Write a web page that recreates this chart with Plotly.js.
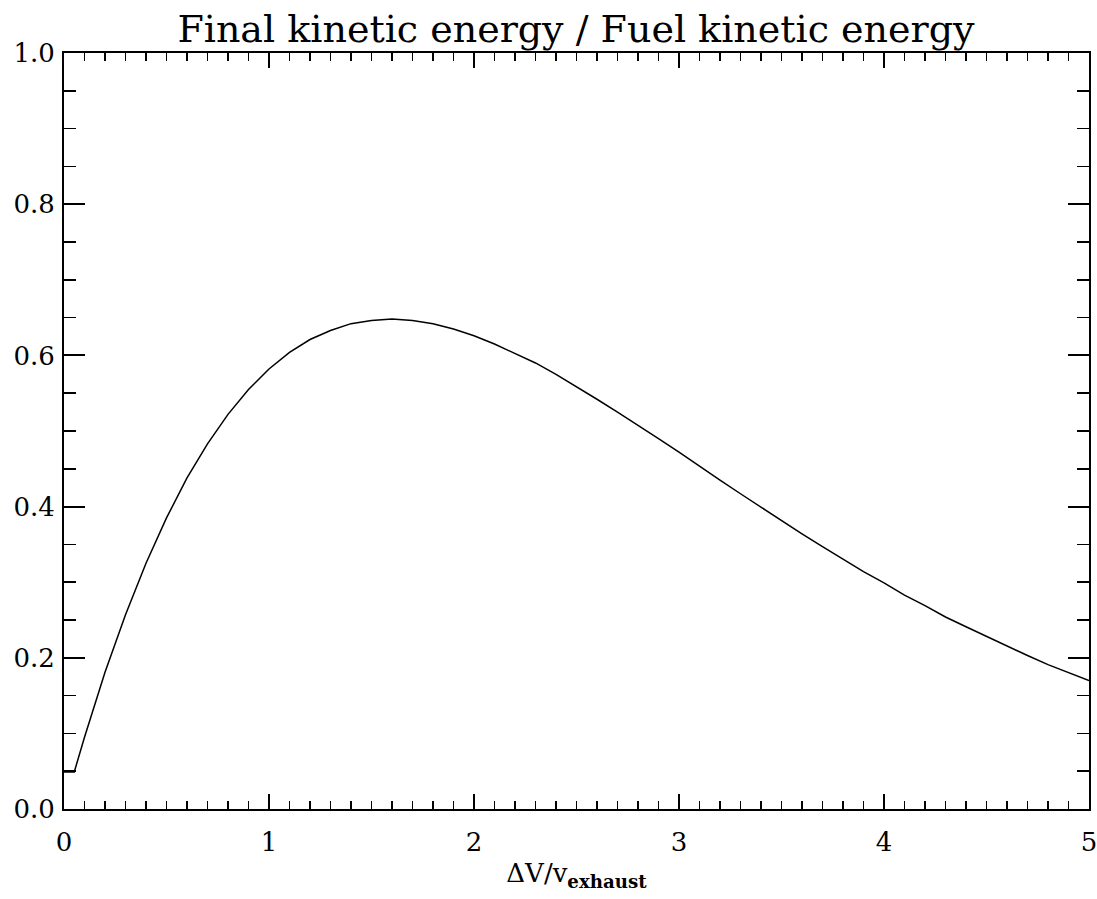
<!DOCTYPE html>
<html>
<head>
<meta charset="utf-8">
<script src="https://cdn.plot.ly/plotly-3.0.1.min.js"></script>
<style>html,body{margin:0;padding:0;background:#fff;}#chart{width:1097px;height:899px;}</style>
</head>
<body>
<div id="chart"></div>
<script>
// Velocity ratio ΔV / v_exhaust
const deltaVRatio = [0.00, 0.05, 0.1, 0.2, 0.3, 0.4, 0.5, 0.6, 0.7, 0.8, 0.9,
  1.0, 1.1, 1.2, 1.3, 1.4, 1.5, 1.6, 1.7, 1.8, 1.9,
  2.0, 2.1, 2.2, 2.3, 2.4, 2.5, 2.6, 2.7, 2.8, 2.9,
  3.0, 3.1, 3.2, 3.3, 3.4, 3.5, 3.6, 3.7, 3.8, 3.9,
  4.0, 4.1, 4.2, 4.3, 4.4, 4.5, 4.6, 4.7, 4.8, 4.9, 5.0];
// Final kinetic energy / Fuel kinetic energy
const energyRatio = [0.049, 0.049, 0.095, 0.181, 0.257, 0.325, 0.385, 0.438, 0.483, 0.522, 0.555,
  0.582, 0.604, 0.621, 0.633, 0.642, 0.646, 0.648, 0.646, 0.642, 0.635,
  0.626, 0.615, 0.603, 0.590, 0.575, 0.559, 0.542, 0.525, 0.508, 0.490,
  0.472, 0.453, 0.435, 0.417, 0.399, 0.381, 0.364, 0.347, 0.330, 0.314,
  0.299, 0.283, 0.269, 0.254, 0.241, 0.228, 0.215, 0.203, 0.191, 0.180, 0.170];
const xTickVals = [0, 1, 2, 3, 4, 5];
const xTickText = ['0', '1', '2', '3', '4', '5'];
const yTickVals = [0.0, 0.2, 0.4, 0.6, 0.8, 1.0];
const yTickText = ['0.0', '0.2', '0.4', '0.6', '0.8', '1.0'];

const font = 'DejaVu Serif, Liberation Serif, serif';

const trace = {
  x: deltaVRatio,
  y: energyRatio,
  type: 'scatter',
  mode: 'lines',
  line: {color: '#000', width: 1.5, shape: 'linear'},
  hoverinfo: 'skip'
};

const axisCommon = {
  showline: true,
  linecolor: '#000',
  linewidth: 2,
  mirror: 'ticks',
  ticks: 'inside',
  tickcolor: '#000',
  tickwidth: 2,
  showgrid: false,
  zeroline: false,
  tickmode: 'array',
  ticklabeloverflow: 'allow'
};

const layout = {
  width: 1097,
  height: 899,
  paper_bgcolor: '#fff',
  plot_bgcolor: '#fff',
  showlegend: false,
  margin: {l: 64, r: 8, t: 53, b: 90, pad: 0},
  title: {
    text: 'Final kinetic energy / Fuel kinetic energy',
    font: {family: font, size: 38, color: '#000'},
    x: 0.525, xanchor: 'center',
    y: 1, yref: 'paper', yanchor: 'bottom',
    pad: {b: 11}
  },
  xaxis: Object.assign({}, axisCommon, {
    range: [0, 5],
    tickvals: xTickVals,
    ticktext: xTickText,
    ticklen: 15,
    tickfont: {family: font, size: 26, color: '#000'},
    ticklabelstandoff: 9,
    minor: {dtick: 0.1, ticklen: 8, tickwidth: 1.5, tickcolor: '#000', ticks: 'inside', showgrid: false},
    title: {text: 'ΔV/v<sub><b>exhaust</b></sub>', font: {family: font, size: 26, color: '#000'}, standoff: 8}
  }),
  yaxis: Object.assign({}, axisCommon, {
    range: [0, 1],
    tickvals: yTickVals,
    ticktext: yTickText,
    ticklen: 21,
    tickfont: {family: font, size: 26, color: '#000'},
    ticklabelstandoff: 2,
    minor: {dtick: 0.05, ticklen: 12, tickwidth: 1.5, tickcolor: '#000', ticks: 'inside', showgrid: false}
  })
};

Plotly.newPlot('chart', [trace], layout, {displayModeBar: false, staticPlot: true});
</script>
</body>
</html>
